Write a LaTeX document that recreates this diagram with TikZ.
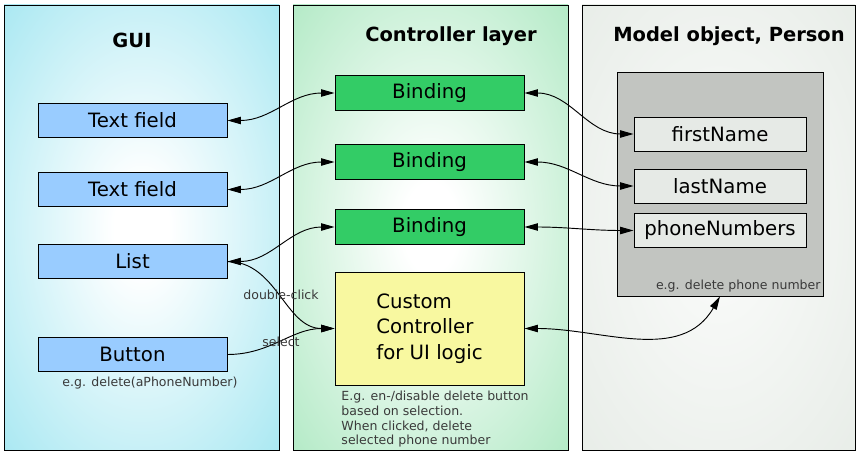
\documentclass[tikz,border=0pt]{standalone}
\usepackage{fontspec}
\setmainfont{DejaVu Sans}
\usetikzlibrary{arrows.meta}
\definecolor{guipanel}{HTML}{A9E8F2}
\definecolor{ctrlpanel}{HTML}{B3EAC6}
\definecolor{modelpanel}{HTML}{E8EDE8}
\definecolor{guiblue}{HTML}{99CCFF}
\definecolor{bindgreen}{HTML}{33CC66}
\definecolor{logicyellow}{HTML}{F8F8A0}
\definecolor{objgray}{HTML}{C2C5C1}
\definecolor{propgray}{HTML}{E6EAE6}
\definecolor{notegray}{HTML}{3A3A3A}
\pgfdeclareradialshading{guishade}{\pgfpoint{0bp}{0bp}}%
  {color(0bp)=(white);color(5bp)=(white);color(36bp)=(guipanel);color(50bp)=(guipanel)}
\pgfdeclareradialshading{ctrlshade}{\pgfpoint{0bp}{0bp}}%
  {color(0bp)=(white);color(5bp)=(white);color(36bp)=(ctrlpanel);color(50bp)=(ctrlpanel)}
\pgfdeclareradialshading{modelshade}{\pgfpoint{0bp}{0bp}}%
  {color(0bp)=(white);color(8bp)=(modelpanel!35!white);color(36bp)=(modelpanel);color(50bp)=(modelpanel)}

\begin{document}
\begin{tikzpicture}[x=0.75pt,y=-0.75pt,line width=0.7pt,>={Triangle[length=10pt,width=5.5pt]},
    title/.style={font=\fontsize{14.6}{17}\selectfont\bfseries},
    elem/.style={draw,minimum width=141.75pt,minimum height=26pt,inner sep=0pt,font=\fontsize{14.8}{17}\selectfont},
    guibox/.style={elem,fill=guiblue},
    bindbox/.style={elem,fill=bindgreen},
    propbox/.style={draw,fill=propgray,minimum width=129pt,minimum height=25.5pt,inner sep=0pt,font=\fontsize{14.8}{17}\selectfont},
    note/.style={text=notegray,font=\fontsize{9.4}{11}\selectfont,inner sep=0pt},
    link/.style={<->}]
  \useasboundingbox (0,0) rectangle (860,453);
  \shadedraw[shading=guishade] (4,5) rectangle (279,450);
  \shadedraw[shading=ctrlshade] (293,5) rectangle (568,450);
  \shadedraw[shading=modelshade] (582,5) rectangle (855,450);

  \node[title] (guititle) at (132,40) {GUI};
  \node[title] (ctrltitle) at (451,36) {Controller layer};
  \node[title] (modeltitle) at (729,36) {Model object, Person};

  \node[guibox] (tf1) at (132.5,120.5) {Text field};
  \node[guibox] (tf2) at (132.5,189.5) {Text field};
  \node[guibox] (list) at (132.5,261.5) {List};
  \node[guibox] (button) at (132.5,354.5) {Button};
  \node[note] (btnnote) at (150,383) {e.g. delete(aPhoneNumber)};

  \node[bindbox] (bind1) at (429.5,93) {Binding};
  \node[bindbox] (bind2) at (429.5,162) {Binding};
  \node[bindbox] (bind3) at (429.5,227) {Binding};
  \node[draw,fill=logicyellow,minimum width=141.75pt,minimum height=84.75pt,align=left,
    font=\fontsize{14.8}{19}\selectfont] (logic) at (429.5,328.5) {Custom\\Controller\\for UI logic};
  \node[note,anchor=north west,align=left] (logicnote) at (341,391)
    {E.g. en-/disable delete button\\based on selection.\\When clicked, delete\\selected phone number};

  \node[draw,fill=objgray,minimum width=154.5pt,minimum height=168pt] (person) at (720,184) {};
  \node[propbox] (first) at (720,134) {firstName};
  \node[propbox] (last) at (720,186) {lastName};
  \node[propbox] (phones) at (720,230.5) {phoneNumbers};
  \node[note,anchor=base east] (delnote) at (821,289) {e.g. delete phone number};

  \draw[link] (tf1.east) to[out=0,in=180] (bind1.west);
  \draw[link] (tf2.east) to[out=0,in=180] (bind2.west);
  \draw[link] (list.east) to[out=0,in=180] (bind3.west);
  \draw[link] (bind1.east) to[out=0,in=180] (first.west);
  \draw[link] (bind2.east) to[out=0,in=180] (last.west);
  \draw[link] (bind3.east) to[out=0,in=180] (phones.west);
  \draw[->] (list.east) to[out=0,in=180] node[note] {double-click} (logic.west);
  \draw[->] (button.east) to[out=0,in=180] node[note] {select} (logic.west);
  \draw[link] (logic.east) to[out=0,in=-120] (person.south);
\end{tikzpicture}
\end{document}
